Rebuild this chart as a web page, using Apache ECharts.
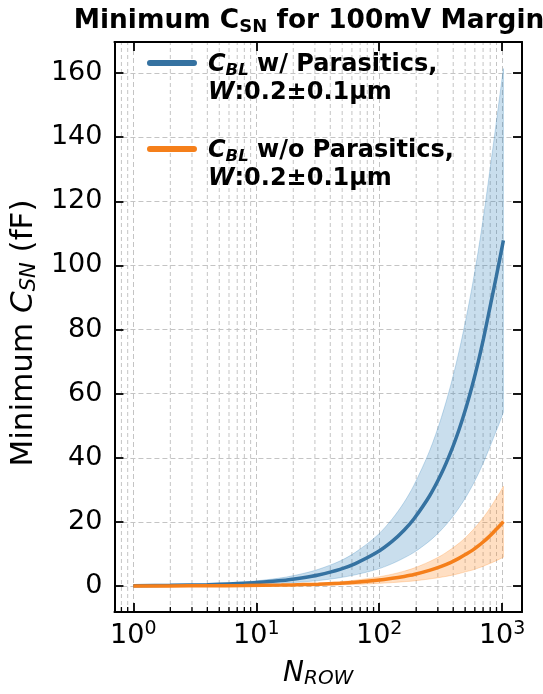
<!DOCTYPE html>
<html>
<head>
<meta charset="utf-8">
<script src="https://cdn.jsdelivr.net/npm/echarts@6/dist/echarts.min.js"></script>
<style>
  html, body { margin: 0; padding: 0; background: #fff; }
  #chart { width: 543px; height: 694px; }
</style>
</head>
<body>
<div id="chart"></div>
<script>
// N_ROW sample points
const nRow = [1, 2, 4, 8, 16, 24, 32, 48, 64, 96, 128, 160, 192, 256, 320, 384, 448, 512, 576, 640, 704, 768, 832, 896, 960, 1024];

// C_BL with parasitics (fF): mid / upper / lower
const withPar = [0.1, 0.21, 0.42, 0.85, 1.7, 2.6, 3.45, 5.2, 7.0, 10.5, 14.0, 17.5, 21.0, 28.0, 35.0, 42.0, 49.0, 56.0, 63.0, 70.0, 77.0, 84.0, 90.5, 96.5, 102.3, 107.8];
const withParHi = [0.15, 0.31, 0.63, 1.27, 2.55, 3.9, 5.2, 7.8, 10.5, 15.7, 21.0, 26.2, 31.5, 42.0, 52.5, 63.0, 73.5, 84.0, 94.3, 104.6, 115.0, 125.4, 135.3, 144.6, 153.3, 161.4];
const withParLo = [0.05, 0.1, 0.21, 0.42, 0.85, 1.3, 1.7, 2.6, 3.5, 5.2, 7.0, 8.8, 10.5, 14.0, 17.5, 21.0, 24.5, 28.0, 31.5, 35.0, 38.5, 42.0, 45.3, 48.4, 51.3, 54.2];

// C_BL without parasitics (fF)
const noPar = [0.017, 0.035, 0.07, 0.14, 0.29, 0.44, 0.58, 0.88, 1.18, 1.79, 2.4, 3.0, 3.6, 4.9, 6.15, 7.4, 8.7, 10.0, 11.2, 12.5, 13.8, 15.1, 16.4, 17.7, 18.9, 20.1];
const noParHi = [0.026, 0.054, 0.11, 0.22, 0.45, 0.68, 0.9, 1.36, 1.83, 2.77, 3.7, 4.65, 5.6, 7.6, 9.5, 11.5, 13.4, 15.4, 17.4, 19.4, 21.4, 23.4, 25.4, 27.4, 29.2, 31.1];
const noParLo = [0.008, 0.016, 0.031, 0.063, 0.13, 0.2, 0.26, 0.39, 0.53, 0.8, 1.08, 1.35, 1.6, 2.2, 2.75, 3.3, 3.9, 4.5, 5.0, 5.6, 6.2, 6.8, 7.35, 7.9, 8.45, 9.0];

// minor ticks of the log axis
const minorX = [0.8, 0.9, 2, 3, 4, 5, 6, 7, 8, 9, 20, 30, 40, 50, 60, 70, 80, 90, 200, 300, 400, 500, 600, 700, 800, 900];

const xMin = 0.702, xMax = 1451;
const yMin = -8.1, yMax = 169.7;

const FONT = 'DejaVu Sans';
const BLUE = '#3572a1';
const ORANGE = '#f57f1a';

const pairs = (ys) => nRow.map((n, i) => [n, ys[i]]);

// legend pill sits on the first text line (invisible corner dots only fix the box)
const legendIcon = 'path://M0,0L0.01,0L0.01,0.01Z M3,9 L47,9 A3,3 0 0 1 47,15 L3,15 A3,3 0 0 1 3,9 Z M0,56L0.01,56L0.01,56.01Z';

const chart = echarts.init(document.getElementById('chart'));

const gridLine = { show: true, lineStyle: { color: '#c4c4c4', type: [5, 3], width: 1 } };
const frame = { show: true, onZero: false, lineStyle: { color: '#000', width: 2 } };
const majorTick = { show: true, inside: true, length: 9, lineStyle: { color: '#000', width: 1.8 } };

// shaded band between lo and hi, drawn once as a polygon
function bandSeries(name, lo, hi, fill, edge) {
  return {
    name: name, type: 'custom', xAxisIndex: 0, yAxisIndex: 0, silent: true, z: 1,
    data: nRow.map((n, i) => [n, lo[i], hi[i]]),
    renderItem: function (params, api) {
      if (params.dataIndex !== 0) return null;
      const cnt = nRow.length;
      const top = [], bot = [];
      for (let j = 0; j < cnt; j++) {
        top.push(api.coord([api.value(0, j), api.value(2, j)]));
        bot.push(api.coord([api.value(0, j), api.value(1, j)]));
      }
      bot.reverse();
      // doubled corners keep the ends square when smoothing
      const pts = [top[0], ...top, top[cnt - 1], bot[0], ...bot, bot[cnt - 1]];
      return {
        type: 'polygon',
        shape: { points: pts, smooth: 0.3 },
        style: { fill: fill, stroke: edge, lineWidth: 0.8 }
      };
    }
  };
}

const option = {
  animation: false,
  textStyle: { fontFamily: FONT },
  title: {
    text: '{b|Minimum C}{s|SN}{b| for 100mV Margin}',
    left: 304, top: 2, textAlign: 'center',
    textStyle: {
      rich: {
        b: { fontFamily: FONT, fontWeight: 'bold', fontSize: 26.4, color: '#000' },
        s: { fontFamily: FONT, fontWeight: 'bold', fontSize: 18, color: '#000', verticalAlign: 'bottom', padding: [11, 0, 0, 0] }
      }
    }
  },
  legend: {
    data: ['w', 'wo'],
    orient: 'vertical',
    left: 142, top: 46,
    itemWidth: 50, itemHeight: 56, itemGap: 30,
    icon: legendIcon,
    itemStyle: { borderWidth: 0 },
    lineStyle: { width: 0 },
    formatter: function (name) {
      const first = name === 'w' ? '{b| w/ Parasitics,}' : '{b| w/o Parasitics,}';
      return '{ci|C}{sub|BL}' + first + '\n{ci|W}{b|:0.2±0.1µm}';
    },
    textStyle: {
      padding: [0, 0, 0, 6],
      lineHeight: 28,
      rich: {
        b: { fontFamily: FONT, fontWeight: 'bold', fontSize: 24, color: '#000', lineHeight: 28 },
        ci: { fontFamily: FONT, fontWeight: 'bold', fontStyle: 'italic', fontSize: 24, color: '#000', lineHeight: 28 },
        sub: { fontFamily: FONT, fontWeight: 'bold', fontStyle: 'italic', fontSize: 16.5, color: '#000', lineHeight: 28, verticalAlign: 'bottom', padding: [8, 0, 0, 0] }
      }
    }
  },
  grid: { left: 112, right: 21, top: 42, bottom: 61, containLabel: false },
  xAxis: [
    {
      type: 'log', logBase: 10, min: xMin, max: xMax, position: 'bottom',
      axisLine: frame,
      axisTick: majorTick,
      splitLine: gridLine,
      axisLabel: {
        margin: 8,
        formatter: function (v) {
          const p = Math.log10(v);
          if (Math.abs(p - Math.round(p)) > 1e-6) return '';
          return '{n|10}{e|' + Math.round(p) + '}';
        },
        rich: {
          n: { fontFamily: FONT, fontSize: 27, color: '#000' },
          e: { fontFamily: FONT, fontSize: 19, color: '#000', verticalAlign: 'top', padding: [0, 0, 13, 0] }
        }
      },
      name: '{i|N}{s|ROW}',
      nameLocation: 'middle', nameGap: 46,
      nameTextStyle: {
        rich: {
          i: { fontFamily: FONT, fontStyle: 'italic', fontSize: 28, color: '#000' },
          s: { fontFamily: FONT, fontStyle: 'italic', fontSize: 20, color: '#000', verticalAlign: 'bottom', padding: [11, 0, 0, 0] }
        }
      }
    },
    {
      type: 'log', logBase: 10, min: xMin, max: xMax, position: 'top',
      axisLine: frame,
      axisTick: majorTick,
      axisLabel: { show: false },
      splitLine: { show: false }
    }
  ],
  yAxis: [
    {
      type: 'value', min: yMin, max: yMax, splitNumber: 9, position: 'left',
      axisLine: frame,
      axisTick: majorTick,
      splitLine: gridLine,
      axisLabel: {
        margin: 12, fontSize: 27, color: '#000', fontFamily: FONT,
        showMinLabel: false, showMaxLabel: false,
        formatter: v => (Math.abs(v % 20) < 1e-6 ? String(v) : '')
      },
      name: '{n|Minimum }{i|C}{s|SN}{n| (fF)}',
      nameLocation: 'middle', nameRotate: 90, nameGap: 52,
      nameTextStyle: {
        padding: [0, 12, 0, 0],
        rich: {
          n: { fontFamily: FONT, fontSize: 31, color: '#000' },
          i: { fontFamily: FONT, fontStyle: 'italic', fontSize: 31, color: '#000' },
          s: { fontFamily: FONT, fontStyle: 'italic', fontSize: 21, color: '#000', verticalAlign: 'bottom', padding: [12, 0, 0, 0] }
        }
      }
    },
    {
      type: 'value', min: yMin, max: yMax, splitNumber: 9, position: 'right',
      axisLine: frame,
      axisTick: majorTick,
      axisLabel: { show: false },
      splitLine: { show: false }
    }
  ],
  series: [
    {
      name: 'minor', type: 'custom', xAxisIndex: 0, yAxisIndex: 0, silent: true, z: 0,
      data: minorX.map(v => [v, 0]),
      renderItem: function (params, api) {
        const x = api.value(0);
        const b = api.coord([x, yMin]);
        const t = api.coord([x, yMax]);
        return {
          type: 'group',
          children: [
            { type: 'line', shape: { x1: b[0], y1: b[1], x2: t[0], y2: t[1] },
              style: { stroke: '#c4c4c4', lineWidth: 1, lineDash: [4, 3] } },
            { type: 'line', shape: { x1: b[0], y1: b[1], x2: b[0], y2: b[1] - 5 },
              style: { stroke: '#000', lineWidth: 1.3 } }
          ]
        };
      }
    },
    bandSeries('bandW', withParLo, withParHi, 'rgba(31,119,180,0.24)', 'rgba(31,119,180,0.3)'),
    {
      name: 'w', type: 'line', data: pairs(withPar), symbol: 'none', smooth: 0.3,
      color: BLUE, lineStyle: { width: 3.5, color: BLUE }, z: 3
    },
    bandSeries('bandWo', noParLo, noParHi, 'rgba(255,127,14,0.25)', 'rgba(255,127,14,0.3)'),
    {
      name: 'wo', type: 'line', data: pairs(noPar), symbol: 'none', smooth: 0.3,
      color: ORANGE, lineStyle: { width: 3.5, color: ORANGE }, z: 4
    }
  ]
};

chart.setOption(option);
</script>
</body>
</html>
